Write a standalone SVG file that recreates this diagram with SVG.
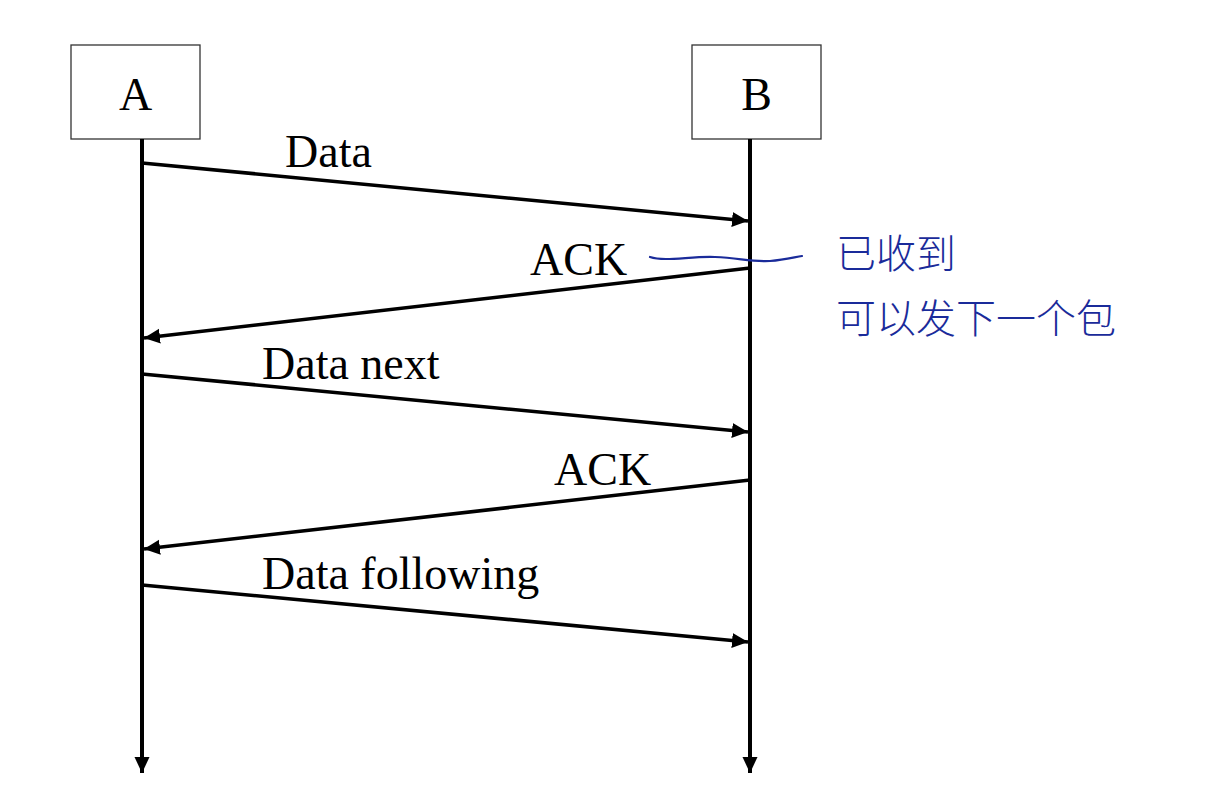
<svg xmlns="http://www.w3.org/2000/svg" width="1206" height="790" viewBox="0 0 1206 790">
  <style>
    .box { fill: #ffffff; stroke: #333333; stroke-width: 1.3; }
    .name { font-family: "Liberation Serif", "Times New Roman", serif; font-size: 46px; fill: #000000; text-anchor: middle; }
    .lbl { font-family: "Liberation Serif", "Times New Roman", serif; font-size: 46px; fill: #000000; }
    .life { stroke: #000000; stroke-width: 4; fill: none; }
    .msg { stroke: #000000; stroke-width: 3.6; fill: none; }
    .note { font-family: "Noto Sans CJK SC", sans-serif; font-size: 40px; font-weight: 300; fill: #1a2b9a; }
    .ink { stroke: #1a2b9a; stroke-width: 2.2; fill: none; stroke-linecap: round; }
  </style>
  <defs>
    <marker id="arr" markerUnits="userSpaceOnUse" markerWidth="18" markerHeight="16" refX="16" refY="7.5" orient="auto">
      <path d="M0,0 L16,7.5 L0,15 z" fill="#000000"/>
    </marker>
  </defs>
  <rect width="1206" height="790" fill="#ffffff"/>

  <g id="node-A">
    <rect class="box" x="71" y="45" width="129" height="94"/>
    <text class="name" x="135.5" y="110">A</text>
  </g>
  <g id="node-B">
    <rect class="box" x="692" y="45" width="129" height="94"/>
    <text class="name" x="756.5" y="110">B</text>
  </g>

  <g id="connectors">
    <line class="life" x1="142" y1="139" x2="142" y2="773" marker-end="url(#arr)"/>
    <line class="life" x1="750" y1="139" x2="750" y2="773" marker-end="url(#arr)"/>
    <line class="msg" x1="142" y1="163" x2="748" y2="221" marker-end="url(#arr)"/>
    <line class="msg" x1="750" y1="268" x2="144" y2="338" marker-end="url(#arr)"/>
    <line class="msg" x1="142" y1="374" x2="748" y2="432" marker-end="url(#arr)"/>
    <line class="msg" x1="750" y1="480" x2="144" y2="549" marker-end="url(#arr)"/>
    <line class="msg" x1="142" y1="585" x2="748" y2="642" marker-end="url(#arr)"/>
  </g>

  <g id="labels">
    <text class="lbl" x="285" y="167">Data</text>
    <text class="lbl" x="530" y="275">ACK</text>
    <text class="lbl" x="262" y="379">Data next</text>
    <text class="lbl" x="554" y="485">ACK</text>
    <text class="lbl" x="262" y="589">Data following</text>
  </g>

  <g id="annotation">
    <path class="ink" d="M650,257 C665,262 690,256 715,257 C740,258 750,262 770,261 C785,260 795,257 802,256"/>
    <text class="note" x="836" y="268">已收到</text>
    <text class="note" x="836" y="333">可以发下一个包</text>
  </g>
</svg>
